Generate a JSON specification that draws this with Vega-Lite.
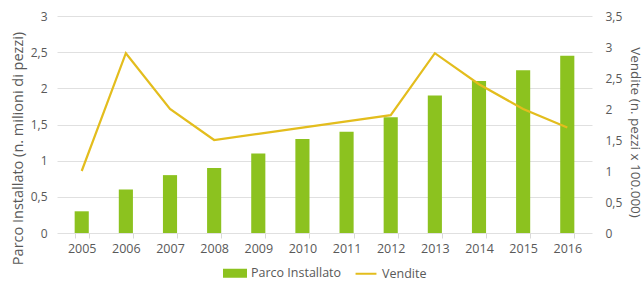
{
  "$schema": "https://vega.github.io/schema/vega-lite/v6.json",
  "width": 535,
  "height": 217,
  "autosize": {"type": "none"},
  "padding": {"top": 16, "left": 57, "right": 52, "bottom": 49},
  "background": "white",
  "data": {"values": [
    {"year": "2005", "parco": 0.3, "vendite": 1.0},
    {"year": "2006", "parco": 0.6, "vendite": 2.9},
    {"year": "2007", "parco": 0.8, "vendite": 2.0},
    {"year": "2008", "parco": 0.9, "vendite": 1.5},
    {"year": "2009", "parco": 1.1, "vendite": 1.6},
    {"year": "2010", "parco": 1.3, "vendite": 1.7},
    {"year": "2011", "parco": 1.4, "vendite": 1.8},
    {"year": "2012", "parco": 1.6, "vendite": 1.9},
    {"year": "2013", "parco": 1.9, "vendite": 2.9},
    {"year": "2014", "parco": 2.1, "vendite": 2.4},
    {"year": "2015", "parco": 2.25, "vendite": 2.0},
    {"year": "2016", "parco": 2.45, "vendite": 1.7}
  ]},
  "encoding": {
    "x": {"field": "year", "type": "nominal", "title": null,
      "scale": {"paddingInner": 0.68, "paddingOuter": 0.4},
      "axis": {"labelAngle": 0, "domain": false, "ticks": true, "tickColor": "#d9d9d9", "tickSize": 5, "tickBand": "extent", "labelPadding": 4, "labelFontSize": 12.5}
    }
  },
  "layer": [
    {
      "mark": {"type": "bar", "color": "#8cc21f"},
      "encoding": {
        "y": {"field": "parco", "type": "quantitative", "title": "Parco Installato (n. milioni di pezzi)",
          "scale": {"domain": [0, 3]},
          "axis": {"values": [0, 0.5, 1, 1.5, 2, 2.5, 3], "labelExpr": "replace(format(datum.value, '~g'), '.', ',')", "domain": false, "ticks": false, "labelPadding": 10, "grid": true, "labelFontSize": 12,
            "titleX": -39, "titleY": 132, "titleBaseline": "middle", "titleFontSize": 14.5}
        },
        "color": {"datum": "Parco Installato", "type": "nominal",
          "scale": {"domain": ["Parco Installato", "Vendite"], "range": ["#8cc21f", "#e3bd1d"]},
          "legend": {"orient": "none", "legendX": 166, "legendY": 245, "title": null, "direction": "horizontal", "columnPadding": 9,
            "symbolSize": 484, "labelOffset": 4, "labelFontSize": 12.5, "labelColor": "#595959", "labelFont": "Open Sans",
            "encode": {"symbols": {"update": {
              "shape": {"signal": "datum.label == 'Vendite' ? 'M-0.95,0H0.95' : 'M-1,-0.32H1V0.32H-1Z'"},
              "fill": {"signal": "datum.label == 'Vendite' ? 'transparent' : '#8cc21f'"},
              "stroke": {"signal": "datum.label == 'Vendite' ? '#e3bd1d' : 'transparent'"},
              "strokeWidth": {"value": 2},
              "opacity": {"value": 1}
            }}}
          }
        }
      }
    },
    {
      "mark": {"type": "line", "color": "#e3bd1d", "strokeWidth": 2.2},
      "encoding": {
        "y": {"field": "vendite", "type": "quantitative", "title": "Vendite (n. pezzi x 100.000)",
          "scale": {"domain": [0, 3.5]},
          "axis": {"orient": "right", "values": [0, 0.5, 1, 1.5, 2, 2.5, 3, 3.5], "labelExpr": "replace(format(datum.value, '~g'), '.', ',')", "domain": false, "ticks": false, "grid": false, "labelPadding": 13, "labelFontSize": 12,
            "titleX": 42, "titleY": 116, "titleBaseline": "middle", "titleFontSize": 13.5}
        },
        "color": {"datum": "Vendite", "type": "nominal"}
      }
    }
  ],
  "resolve": {"scale": {"y": "independent"}},
  "config": {
    "view": {"stroke": null},
    "font": "Open Sans",
    "axis": {"labelColor": "#595959", "titleColor": "#595959", "labelFontSize": 12.5, "titleFontSize": 13, "titleFontWeight": "normal", "gridColor": "#e0e0e0", "labelFont": "Open Sans", "titleFont": "Open Sans"}
  }
}
